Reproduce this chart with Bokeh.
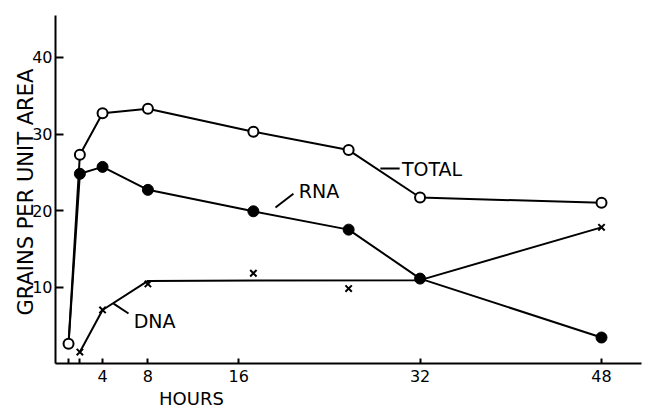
import math
from bokeh.plotting import figure
from bokeh.models import Label, FixedTicker, Range1d
from bokeh.embed import file_html
from bokeh.resources import INLINE

# ---- data ----
total_hours = [1, 2, 4, 8, 17.3, 25.7, 32, 48]
total_grains = [2.6, 27.3, 32.7, 33.3, 30.3, 27.9, 21.7, 21.0]

rna_hours = [2, 4, 8, 17.3, 25.7, 32, 48]
rna_grains = [24.8, 25.7, 22.7, 19.9, 17.5, 11.1, 3.4]

dna_hours = [2, 4, 8, 17.3, 25.7, 32, 48]
dna_grains = [1.5, 7.0, 10.4, 11.8, 9.8, 11.1, 17.8]

# hand-drawn DNA trend line
dna_line_hours = [2, 4, 8, 32, 48]
dna_line_grains = [1.5, 7.0, 10.8, 10.9, 17.8]

x_ticks = [1, 2, 4, 8, 16, 32, 48]
x_tick_labels = {1: "", 2: "", 4: "4", 8: "8", 16: "16", 32: "32", 48: "48"}
y_ticks = [10, 20, 30, 40]

FONT = "DejaVu Sans"

p = figure(width=645, height=410, output_backend="svg", toolbar_location=None,
           x_range=Range1d(-5.0, 51.88), y_range=Range1d(-6.14, 47.45),
           min_border=0)
p.background_fill_color = "white"
p.border_fill_color = "white"
p.outline_line_color = None
p.xgrid.visible = False
p.ygrid.visible = False

# axes drawn at fixed locations inside the frame
for ax in (p.xaxis[0], p.yaxis[0]):
    ax.axis_line_width = 2
    ax.axis_line_color = "black"
    ax.major_tick_line_width = 2
    ax.major_tick_line_color = "black"
    ax.minor_tick_line_color = None
    ax.major_tick_out = 0
    ax.major_label_text_font = FONT
    ax.major_label_text_font_size = "16px"
    ax.major_label_text_color = "black"

p.xaxis.fixed_location = 0
p.xaxis.bounds = (-0.15, 51.5)
p.xaxis.ticker = FixedTicker(ticks=x_ticks)
p.xaxis.major_label_overrides = {k: v for k, v in x_tick_labels.items()}
p.xaxis.major_tick_in = 5
p.xaxis.major_label_standoff = 6

p.yaxis.fixed_location = -0.15
p.yaxis.bounds = (0, 45.5)
p.yaxis.ticker = FixedTicker(ticks=y_ticks)
p.yaxis.major_tick_in = 8
p.yaxis.major_label_standoff = 3

# series
p.line(total_hours, total_grains, line_color="black", line_width=2)
p.line([total_hours[0]] + rna_hours, [total_grains[0]] + rna_grains, line_color="black", line_width=2)
p.line(dna_line_hours, dna_line_grains, line_color="black", line_width=2)

p.scatter(total_hours, total_grains, marker="circle", size=10, fill_color="white",
          line_color="black", line_width=2)
p.scatter(rna_hours, rna_grains, marker="circle", size=11, fill_color="black",
          line_color="black", line_width=1)
p.scatter(dna_hours, dna_grains, marker="x", size=9, line_color="black", line_width=2)

# series labels with leader lines
p.segment(x0=[28.5, 19.25, 4.97], y0=[25.5, 20.4, 7.84],
          x1=[30.2, 20.83, 6.29], y1=[25.5, 22.2, 6.54],
          line_color="black", line_width=2)

for txt, x, y in [("TOTAL", 30.4, 25.4), ("RNA", 21.3, 22.5), ("DNA", 6.75, 5.6)]:
    p.add_layout(Label(x=x, y=y, text=txt, text_font=FONT, text_font_size="19px",
                       text_align="left", text_baseline="middle", text_color="black"))

# axis titles
p.add_layout(Label(x=-2.75, y=22.4, text="GRAINS PER UNIT AREA", angle=math.pi / 2,
                   text_font=FONT, text_font_size="21px", text_align="center",
                   text_baseline="middle", text_color="black"))
p.add_layout(Label(x=11.84, y=-4.6, text="HOURS", text_font=FONT, text_font_size="18px",
                   text_align="center", text_baseline="middle", text_color="black"))

open("out.html", "w").write(file_html(p, INLINE))
